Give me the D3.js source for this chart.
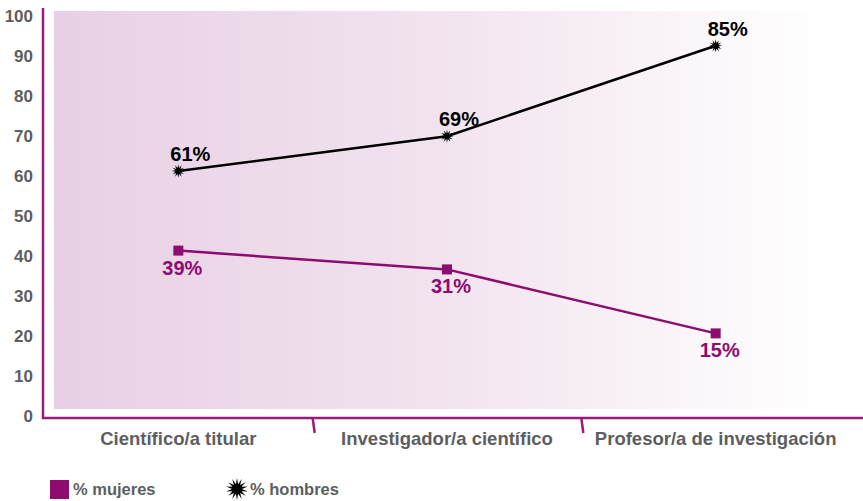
<!DOCTYPE html>
<html><head><meta charset="utf-8">
<script src="https://cdn.jsdelivr.net/npm/d3@7/dist/d3.min.js"></script>
<style>body{margin:0;background:#fff}svg{display:block}</style>
</head><body>
<svg id="c" width="863" height="501"></svg>
<script>
// ---- data ----
const categories = ["Científico/a titular", "Investigador/a científico", "Profesor/a de investigación"];
const hombres = [61, 69.7, 92.3];          // plotted positions
const mujeres = [41.1, 36.4, 20.4];
const hombresLabels = ["61%", "69%", "85%"];
const mujeresLabels = ["39%", "31%", "15%"];
const yTicks = [0, 10, 20, 30, 40, 50, 60, 70, 80, 90, 100];
const legendLabels = ["% mujeres", "% hombres"];

// ---- styles ----
const PURPLE = "#8e0c6f", AXIS = "#9c1a7d", GREY = "#5d5e60";
const svg = d3.select("#c");

const x = d3.scaleBand().domain(categories).range([44, 850]);
const y = d3.scaleLinear().domain([0, 100]).range([415, 15]);

// background gradient
const defs = svg.append("defs");
const grad = defs.append("linearGradient").attr("id", "bg").attr("x1", 0).attr("x2", 1).attr("y1", 0).attr("y2", 0);
grad.append("stop").attr("offset", 0).attr("stop-color", "#e8d0e4");
grad.append("stop").attr("offset", 0.45).attr("stop-color", "#f1e2ee");
grad.append("stop").attr("offset", 0.95).attr("stop-color", "#ffffff");
svg.append("rect").attr("x", 54).attr("y", 11).attr("width", 809).attr("height", 398).attr("fill", "url(#bg)");

// axis lines
svg.append("line").attr("x1", 43).attr("x2", 43).attr("y1", 8).attr("y2", 419)
  .attr("stroke", AXIS).attr("stroke-width", 2.5);
svg.append("line").attr("x1", 42).attr("x2", 863).attr("y1", 418).attr("y2", 418)
  .attr("stroke", AXIS).attr("stroke-width", 2.5);

// y axis labels
const yAx = svg.append("g").attr("transform", "translate(33,0)")
  .call(d3.axisLeft(y).tickValues(yTicks).tickSize(0).tickPadding(0).tickFormat(d3.format("d")));
yAx.select(".domain").remove();
yAx.selectAll("text").attr("font-family", "'Liberation Sans', Arial, sans-serif")
  .attr("font-weight", "bold").attr("font-size", 17).attr("fill", GREY).attr("dy", "0.36em");

// x axis labels
const xAx = svg.append("g").attr("transform", "translate(0,418)")
  .call(d3.axisBottom(x).tickSize(0).tickPadding(0));
xAx.select(".domain").remove();
xAx.selectAll("text").attr("font-family", "'Liberation Sans Narrow', 'Liberation Sans', Arial, sans-serif")
  .attr("font-weight", "bold").attr("font-size", 18.5).attr("fill", GREY)
  .attr("y", 27).attr("dy", 0);

// category separators
svg.append("g").selectAll("line").data(categories.slice(1)).join("line")
  .attr("x1", d => x(d)).attr("x2", d => x(d) + 2)
  .attr("y1", 418).attr("y2", 433)
  .attr("stroke", AXIS).attr("stroke-width", 2.5);

// star marker path
function starPath(rOut, rIn, n) {
  const pts = d3.range(n * 2).map(i => {
    const r = i % 2 === 0 ? rOut : rIn;
    const a = Math.PI * i / n - Math.PI / 2;
    return [r * Math.cos(a), r * Math.sin(a)];
  });
  return "M" + pts.map(p => p.join(",")).join("L") + "Z";
}

const cx = i => x(categories[i]) + x.bandwidth() / 2;
const line = d3.line().x((d, i) => cx(i)).y(d => y(d));

// women line
svg.append("path").datum(mujeres).attr("d", line).attr("fill", "none")
  .attr("stroke", PURPLE).attr("stroke-width", 2.5);
svg.append("g").selectAll("rect").data(mujeres).join("rect")
  .attr("x", (d, i) => cx(i) - 5).attr("y", d => y(d) - 5)
  .attr("width", 10).attr("height", 10).attr("fill", PURPLE);
svg.append("g").selectAll("text").data(mujeres).join("text")
  .attr("x", (d, i) => cx(i) + 4).attr("y", d => y(d) + 24)
  .attr("text-anchor", "middle").attr("font-family", "'Liberation Sans', Arial, sans-serif")
  .attr("font-weight", "bold").attr("font-size", 20).attr("fill", PURPLE)
  .text((d, i) => mujeresLabels[i]);

// men line
svg.append("path").datum(hombres).attr("d", line).attr("fill", "none")
  .attr("stroke", "#000").attr("stroke-width", 2.5);
svg.append("g").selectAll("path").data(hombres).join("path")
  .attr("transform", (d, i) => `translate(${cx(i)},${y(d)})`)
  .attr("d", starPath(6.5, 3, 12)).attr("fill", "#000");
svg.append("g").selectAll("text").data(hombres).join("text")
  .attr("x", (d, i) => cx(i) + 12).attr("y", d => y(d) - 10)
  .attr("text-anchor", "middle").attr("font-family", "'Liberation Sans', Arial, sans-serif")
  .attr("font-weight", "bold").attr("font-size", 20).attr("fill", "#000")
  .text((d, i) => hombresLabels[i]);

// legend
const lg = svg.append("g");
lg.append("rect").attr("x", 50).attr("y", 480).attr("width", 19).attr("height", 19).attr("fill", PURPLE);
lg.append("path").attr("transform", "translate(237,489)").attr("d", starPath(11, 5, 14)).attr("fill", "#000");
lg.selectAll("text").data(legendLabels).join("text")
  .attr("x", (d, i) => i === 0 ? 73 : 250).attr("y", 495)
  .attr("font-family", "'Liberation Sans', Arial, sans-serif")
  .attr("font-weight", "bold").attr("font-size", 16.5).attr("fill", GREY)
  .text(d => d);
</script>
</body></html>
